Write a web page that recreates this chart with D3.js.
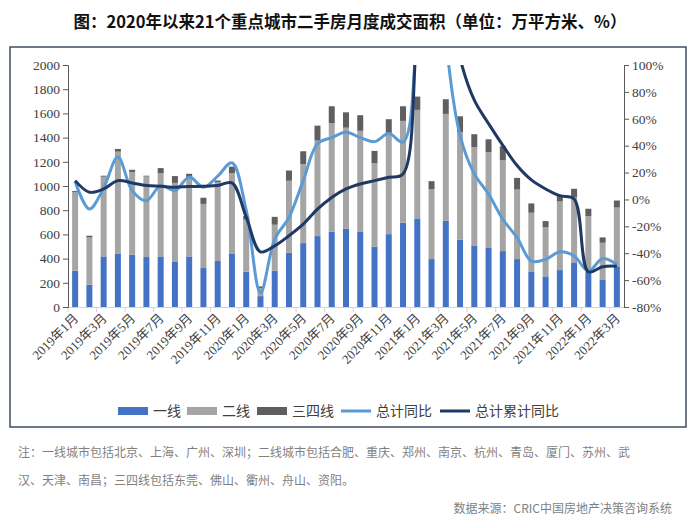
<!DOCTYPE html>
<html>
<head>
<meta charset="utf-8">
<script src="https://cdn.jsdelivr.net/npm/d3@7"></script>
<style>
  body { margin: 0; background: #fff; }
  svg { display: block; }
</style>
</head>
<body>
<div id="chart"></div>
<script>
const months = [
  '2019年1月', '2019年2月', '2019年3月', '2019年4月', '2019年5月', '2019年6月',
  '2019年7月', '2019年8月', '2019年9月', '2019年10月', '2019年11月', '2019年12月',
  '2020年1月', '2020年2月', '2020年3月', '2020年4月', '2020年5月', '2020年6月',
  '2020年7月', '2020年8月', '2020年9月', '2020年10月', '2020年11月', '2020年12月',
  '2021年1月', '2021年2月', '2021年3月', '2021年4月', '2021年5月', '2021年6月',
  '2021年7月', '2021年8月', '2021年9月', '2021年10月', '2021年11月', '2021年12月',
  '2022年1月', '2022年2月', '2022年3月'
]

// 万平方米
const tier1 = [300, 184, 418, 443, 432, 413, 418, 377, 418, 322, 380, 443,
  292, 90, 300, 448, 528, 586, 622, 649, 624, 500, 602, 696,
  732, 396, 712, 556, 509, 492, 462, 396, 289, 253, 305, 369,
  289, 223, 336]
const tier2 = [651, 391, 659, 841, 684, 666, 688, 649, 653, 530, 650, 662,
  429, 65, 380, 595, 654, 789, 897, 833, 832, 688, 835, 842,
  897, 578, 884, 888, 812, 787, 751, 575, 490, 405, 567, 536,
  463, 308, 486]
const tier34 = [8, 14, 8, 22, 18, 6, 42, 56, 30, 51, 15, 55,
  33, 15, 65, 85, 105, 124, 140, 127, 129, 102, 115, 121,
  110, 66, 121, 132, 107, 107, 116, 96, 77, 52, 52, 72,
  60, 44, 58]

// %
const yoy = [13.3, -7.1, 8.5, 31.5, 6.6, -0.9, 10.3, 6.6, 16.6, 9.1, 17.3, 27.3,
  -8, -69.4, -29.6, -13.4, 14, 41.4, 46, 50, 46, 43, 49, 42.7,
  130, 300, 120, 47.6, 19, 4, -14.7, -28.4, -45.8, -44.6, -38.9, -42,
  -53.3, -43.9, -48.3]
const cumYoy = [14, 5.4, 7.8, 14, 12.3, 10.3, 9.8, 9.1, 9.6, 9.8, 10.3, 12.3,
  -13, -39, -34.5, -27, -18.4, -7.2, 1.5, 7.8, 11.5, 14, 16.5, 19,
  125, 200, 165, 105, 73.8, 56.4, 40.2, 25.2, 14.5, 7.8, 2.8, 0.3,
  -53.8, -50, -49.6]

const leftTicks = [0, 200, 400, 600, 800, 1000, 1200, 1400, 1600, 1800, 2000]
const rightTicks = [-80, -60, -40, -20, 0, 20, 40, 60, 80, 100]

const seriesNames = ['一线', '二线', '三四线']
const colors = ['#4472c4', '#a5a5a5', '#5f5f5f']
const lightBlue = '#5b9bd5'
const navy = '#1f3864'

const noteLines = [
  '注：一线城市包括北京、上海、广州、深圳；二线城市包括合肥、重庆、郑州、南京、杭州、青岛、厦门、苏州、武',
  '汉、天津、南昌；三四线包括东莞、佛山、衢州、舟山、资阳。'
]
const source = '数据来源：CRIC中国房地产决策咨询系统'

const W = 700
const H = 528
const plot = { left: 68, right: 624, top: 65, bottom: 307 }
const numFont = '"Liberation Serif", "DejaVu Serif", "Noto Sans CJK SC", serif'
const cjkFont = '"Noto Sans CJK SC", sans-serif'

const svg = d3.select('#chart')
  .append('svg')
  .attr('width', W)
  .attr('height', H)

// title
svg.append('text')
  .attr('x', W / 2)
  .attr('y', 28)
  .attr('text-anchor', 'middle')
  .attr('font-family', cjkFont)
  .attr('font-weight', 'bold')
  .attr('font-size', 16.5)
  .attr('fill', '#111')
  .text('图：2020年以来21个重点城市二手房月度成交面积（单位：万平方米、%）')

// frame
svg.append('rect')
  .attr('x', 10)
  .attr('y', 47)
  .attr('width', 676)
  .attr('height', 380)
  .attr('fill', 'none')
  .attr('stroke', '#3e4e60')
  .attr('stroke-width', 1.5)

const x = d3.scaleBand()
  .domain(months)
  .range([plot.left, plot.right])
  .paddingInner(0.58)
  .paddingOuter(0.29)

const yLeft = d3.scaleLinear().domain([0, 2000]).range([plot.bottom, plot.top])
const yRight = d3.scaleLinear().domain([-80, 100]).range([plot.bottom, plot.top])

// stacked bars
const table = months.map((m, i) => ({ month: m, t1: tier1[i], t2: tier2[i], t3: tier34[i] }))
const stack = d3.stack().keys(['t1', 't2', 't3'])(table)

svg.append('g')
  .selectAll('g')
  .data(stack)
  .enter()
  .append('g')
  .attr('fill', (d, i) => colors[i])
  .selectAll('rect')
  .data(d => d)
  .enter()
  .append('rect')
  .attr('x', d => x(d.data.month))
  .attr('width', x.bandwidth())
  .attr('y', d => yLeft(d[1]))
  .attr('height', d => yLeft(d[0]) - yLeft(d[1]))

// x axis line + ticks every two months
const xAxis = svg.append('g')
xAxis.append('line')
  .attr('x1', plot.left).attr('x2', plot.right)
  .attr('y1', plot.bottom + 0.5).attr('y2', plot.bottom + 0.5)
  .attr('stroke', '#d9cfe0')
  .attr('stroke-width', 1)
xAxis.selectAll('.xtick')
  .data(months.filter((m, i) => i % 2 === 0))
  .enter()
  .append('line')
  .attr('x1', d => x(d) - (x.step() - x.bandwidth()) / 2)
  .attr('x2', d => x(d) - (x.step() - x.bandwidth()) / 2)
  .attr('y1', plot.bottom)
  .attr('y2', plot.bottom + 5)
  .attr('stroke', '#d9cfe0')

xAxis.selectAll('.xlabel')
  .data(months.filter((m, i) => i % 2 === 0))
  .enter()
  .append('text')
  .attr('transform', d => `translate(${x(d) + x.bandwidth() / 2 + 4},${plot.bottom + 12}) rotate(-45)`)
  .attr('text-anchor', 'end')
  .attr('font-family', numFont)
  .attr('font-size', 13)
  .attr('fill', '#404040')
  .text(d => d)

// left axis
const leftAxis = d3.axisLeft(yLeft).tickValues(leftTicks).tickSize(5).tickPadding(3)
  .tickFormat(d3.format('d'))
svg.append('g')
  .attr('class', 'axis y-left')
  .attr('transform', `translate(${plot.left},0)`)
  .call(leftAxis)

// right axis
const rightAxis = d3.axisRight(yRight).tickValues(rightTicks).tickSize(5).tickPadding(3)
  .tickFormat(d => d + '%')
svg.append('g')
  .attr('class', 'axis y-right')
  .attr('transform', `translate(${plot.right},0)`)
  .call(rightAxis)

svg.selectAll('.axis path, .axis line').attr('stroke', '#595959')
svg.selectAll('.axis text')
  .attr('font-family', numFont)
  .attr('font-size', 13.5)
  .attr('fill', '#404040')

// lines, clipped to the plot area
svg.append('clipPath')
  .attr('id', 'plot-clip')
  .append('rect')
  .attr('x', plot.left)
  .attr('y', plot.top)
  .attr('width', plot.right - plot.left)
  .attr('height', plot.bottom - plot.top)

const lineGen = vals => d3.line()
  .x((d, i) => x(months[i]) + x.bandwidth() / 2)
  .y(d => yRight(d))
  .curve(d3.curveCatmullRom.alpha(0.5))(vals)

const lines = svg.append('g').attr('clip-path', 'url(#plot-clip)')
lines.append('path')
  .attr('d', lineGen(yoy))
  .attr('fill', 'none')
  .attr('stroke', lightBlue)
  .attr('stroke-width', 3)
lines.append('path')
  .attr('d', lineGen(cumYoy))
  .attr('fill', 'none')
  .attr('stroke', navy)
  .attr('stroke-width', 3)

// legend
const legendY = 411
const legend = svg.append('g').attr('font-family', cjkFont).attr('font-size', 14).attr('fill', '#404040')
const legendItems = [
  { name: seriesNames[0], type: 'rect', color: colors[0], x: 118 },
  { name: seriesNames[1], type: 'rect', color: colors[1], x: 187 },
  { name: seriesNames[2], type: 'rect', color: colors[2], x: 257 },
  { name: '总计同比', type: 'line', color: lightBlue, x: 341 },
  { name: '总计累计同比', type: 'line', color: navy, x: 440 }
]
legendItems.forEach(d => {
  if (d.type === 'rect') {
    legend.append('rect')
      .attr('x', d.x).attr('y', legendY - 4)
      .attr('width', 30).attr('height', 8)
      .attr('fill', d.color)
  } else {
    legend.append('line')
      .attr('x1', d.x).attr('x2', d.x + 30)
      .attr('y1', legendY).attr('y2', legendY)
      .attr('stroke', d.color)
      .attr('stroke-width', 3)
  }
  legend.append('text')
    .attr('x', d.x + 35)
    .attr('y', legendY)
    .attr('dy', '0.35em')
    .text(d.name)
})

// notes
svg.selectAll('.note')
  .data(noteLines)
  .enter()
  .append('text')
  .attr('x', 18)
  .attr('y', (d, i) => 457 + i * 28)
  .attr('font-family', cjkFont)
  .attr('font-size', 12)
  .attr('fill', '#7f7f7f')
  .text(d => d)

svg.append('text')
  .attr('x', 672)
  .attr('y', 513)
  .attr('text-anchor', 'end')
  .attr('font-family', cjkFont)
  .attr('font-size', 12)
  .attr('fill', '#7f7f7f')
  .text(source)
</script>
</body>
</html>
